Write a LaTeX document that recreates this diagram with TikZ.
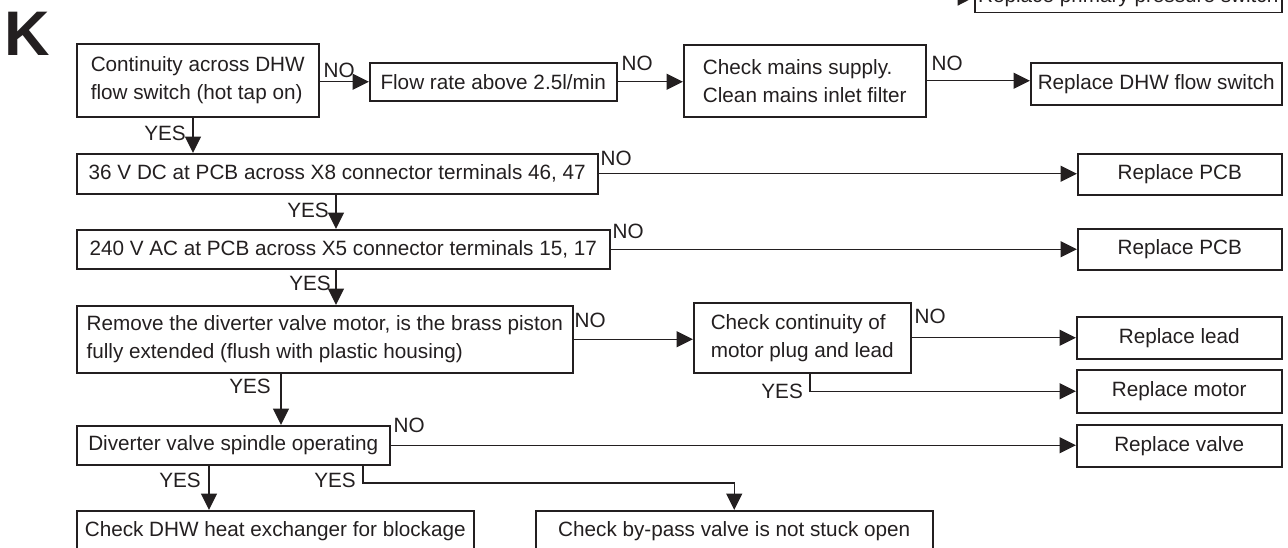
\documentclass[tikz,border=0pt]{standalone}
\usepackage{fontspec}
\setmainfont{Liberation Sans}
\usetikzlibrary{arrows.meta,calc}
\definecolor{ink}{HTML}{231F20}
\begin{document}
\begin{tikzpicture}[x=1pt,y=-1pt,
  box/.style={draw=ink, line width=1.5pt, inner sep=0pt, anchor=north west, align=left, text=ink, font=\fontsize{20.7}{28}\selectfont},
  conn/.style={draw=ink, line width=1.4pt, -{Triangle[length=16.5pt,width=16pt]}},
  lbl/.style={inner sep=0pt, text=ink, font=\fontsize{20.7}{28}\selectfont}]
\useasboundingbox (0,0) rectangle (1288,547);
\clip (0,0) rectangle (1288,547);

\node[anchor=base west, inner sep=0pt, text=ink, font=\bfseries\fontsize{63}{63}\selectfont] (K) at (4.5,55) {K};

% boxes
\node[box, minimum width=242pt, minimum height=73pt] (b1) at (76,43) {Continuity across DHW\\flow switch (hot tap on)};
\node[box, minimum width=247pt, minimum height=38pt] (b2) at (369,62) {Flow rate above 2.5l/min};
\node[box, minimum width=242pt, minimum height=72pt] (b3) at (683,44) {Check mains supply.\\Clean mains inlet filter};
\node[box, minimum width=251pt, minimum height=42pt] (b4) at (1030,62) {Replace DHW flow switch};
\node[box, anchor=south west, minimum width=307pt, minimum height=30pt] (top) at (974,13) {Replace primary pressure switch};
\coordinate (topstart) at (930,-2);

\node[box, minimum width=521pt, minimum height=40pt] (r2) at (76,153) {36 V DC at PCB across X8 connector terminals 46, 47};
\node[box, minimum width=204pt, minimum height=41pt] (pcb1) at (1077,153) {Replace PCB};
\node[box, minimum width=533pt, minimum height=39pt] (r3) at (76,229) {240 V AC at PCB across X5 connector terminals 15, 17};
\node[box, minimum width=204pt, minimum height=41pt] (pcb2) at (1077,228) {Replace PCB};
\node[box, minimum width=496pt, minimum height=67pt] (r4) at (76,305) {Remove the diverter valve motor, is the brass piston\\fully extended (flush with plastic housing)};
\node[box, minimum width=217pt, minimum height=70pt] (cc) at (693,302) {Check continuity of\\motor plug and lead};
\node[box, minimum width=205pt, minimum height=42pt] (lead) at (1076,316) {Replace lead};
\node[box, minimum width=205pt, minimum height=43pt] (motor) at (1076,369) {Replace motor};
\node[box, minimum width=313pt, minimum height=39pt] (r5) at (76,425) {Diverter valve spindle operating};
\node[box, minimum width=205pt, minimum height=42pt] (valve) at (1076,424) {Replace valve};
\node[box, minimum width=397pt, minimum height=40pt] (bot1) at (76,510) {Check DHW heat exchanger for blockage};
\node[box, minimum width=397pt, minimum height=40pt] (bot2) at (535,510) {Check by-pass valve is not stuck open};

% connectors
\draw[conn] (b1.east |- b2.west) -- (b2.west);
\draw[conn] (b2.east) -- (b2.east -| b3.west);
\draw[conn] (b3.east) -- (b3.east -| b4.west);
\draw[conn] (topstart) -- (top.west);
\draw[conn] ($(b1.south west)+(117,0)$) -- ($(r2.north west)+(117,0)$);
\draw[conn] (r2.east) -- (r2.east -| pcb1.west);
\draw[conn] ($(r2.south west)+(260,0)$) -- ($(r3.north west)+(260,0)$);
\draw[conn] (r3.east) -- (r3.east -| pcb2.west);
\draw[conn] ($(r3.south west)+(260,0)$) -- ($(r4.north west)+(260,0)$);
\draw[conn] (r4.east) -- (r4.east -| cc.west);
\draw[conn] (cc.east) -- (cc.east -| lead.west);
\draw[conn] ($(cc.south west)+(117,0)$) |- (motor.west);
\draw[conn] ($(r4.south west)+(205,0)$) -- ($(r5.north west)+(205,0)$);
\draw[conn] (r5.east) -- (r5.east -| valve.west);
\draw[conn] ($(r5.south west)+(133,0)$) -- ($(bot1.north west)+(133,0)$);
\draw[conn] ($(r5.south west)+(287,0)$) |- ($(bot2.north)+(0,-27)$) -- (bot2.north);

% labels
\node[lbl, anchor=base west] (no1) at (323.4,77) {NO};
\node[lbl, anchor=base west] (no2) at (621.5,70) {NO};
\node[lbl, anchor=base west] (no3) at (931.5,70) {NO};
\node[lbl, anchor=base west] (no4) at (600.5,165) {NO};
\node[lbl, anchor=base west] (no5) at (612.5,238) {NO};
\node[lbl, anchor=base west] (no6) at (574.5,327) {NO};
\node[lbl, anchor=base west] (no7) at (914.5,323) {NO};
\node[lbl, anchor=base west] (no8) at (393.5,432) {NO};
\node[lbl, anchor=base east] (yes1) at (186,140) {YES};
\node[lbl, anchor=base east] (yes2) at (329,217) {YES};
\node[lbl, anchor=base east] (yes3) at (331,290) {YES};
\node[lbl, anchor=base east] (yes4) at (271,393) {YES};
\node[lbl, anchor=base east] (yes5) at (201,487) {YES};
\node[lbl, anchor=base east] (yes6) at (356,487) {YES};
\node[lbl, anchor=base east] (yes7) at (803,398) {YES};
\end{tikzpicture}
\end{document}
